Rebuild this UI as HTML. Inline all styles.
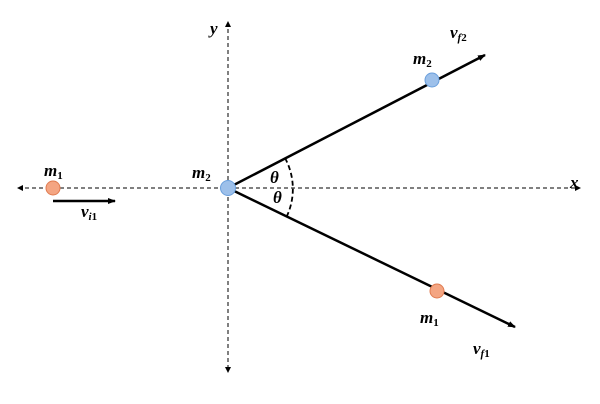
<!DOCTYPE html>
<html><head><style>body{margin:0;background:#fff}svg{display:block}text{font-family:"Liberation Serif",serif;font-style:italic;font-weight:bold}</style></head><body>
<svg width="600" height="404" viewBox="0 0 600 404">
<defs>
<marker id="a" markerWidth="8" markerHeight="8" refX="7" refY="4" orient="auto" markerUnits="userSpaceOnUse"><path d="M0,1 L8,4 L0,7 Z" fill="#000"/></marker>
<marker id="s" markerWidth="6" markerHeight="6" refX="5" refY="3" orient="auto-start-reverse" markerUnits="userSpaceOnUse"><path d="M0,0 L6,3 L0,6 Z" fill="#000"/></marker>
</defs>
<line x1="18" y1="188" x2="580" y2="188" stroke="#000" stroke-width="1" stroke-dasharray="4,3" marker-start="url(#s)" marker-end="url(#s)"/>
<line x1="228" y1="22" x2="228" y2="372" stroke="#000" stroke-width="1" stroke-dasharray="4,3" marker-start="url(#s)" marker-end="url(#s)"/>
<line x1="228" y1="188" x2="485" y2="55" stroke="#000" stroke-width="2.5" marker-end="url(#a)"/>
<line x1="228" y1="188" x2="515" y2="327" stroke="#000" stroke-width="2.5" marker-end="url(#a)"/>
<line x1="53" y1="201" x2="115" y2="201" stroke="#000" stroke-width="2.5" marker-end="url(#a)"/>
<path d="M285,158 A65,65 0 0 1 286,218" fill="none" stroke="#000" stroke-width="1.8" stroke-dasharray="5,3"/>
<circle cx="53" cy="188" r="7" fill="#f4a582" stroke="#e07b50"/>
<circle cx="228" cy="188" r="7.5" fill="#9dc0ea" stroke="#6a9fdc"/>
<circle cx="432" cy="80" r="7" fill="#9dc0ea" stroke="#6a9fdc"/>
<circle cx="437" cy="291" r="7" fill="#f4a582" stroke="#e07b50"/>
<text x="44" y="176" font-size="17">m<tspan font-size="11" dy="3" font-style="normal">1</tspan></text>
<text x="192" y="178" font-size="17">m<tspan font-size="11" dy="3" font-style="normal">2</tspan></text>
<text x="413" y="64" font-size="17">m<tspan font-size="11" dy="3" font-style="normal">2</tspan></text>
<text x="420" y="323" font-size="17">m<tspan font-size="11" dy="3" font-style="normal">1</tspan></text>
<text x="81" y="217" font-size="17">v<tspan font-size="11" dy="3">i</tspan><tspan font-size="11" font-style="normal">1</tspan></text>
<text x="450" y="38" font-size="17">v<tspan font-size="11" dy="3">f</tspan><tspan font-size="11" font-style="normal">2</tspan></text>
<text x="473" y="354" font-size="17">v<tspan font-size="11" dy="3">f</tspan><tspan font-size="11" font-style="normal">1</tspan></text>
<text x="270" y="183" font-size="17">θ</text>
<text x="273" y="203" font-size="17">θ</text>
<text x="570" y="188" font-size="17">x</text>
<text x="210" y="34" font-size="17">y</text>
</svg>
</body></html>
